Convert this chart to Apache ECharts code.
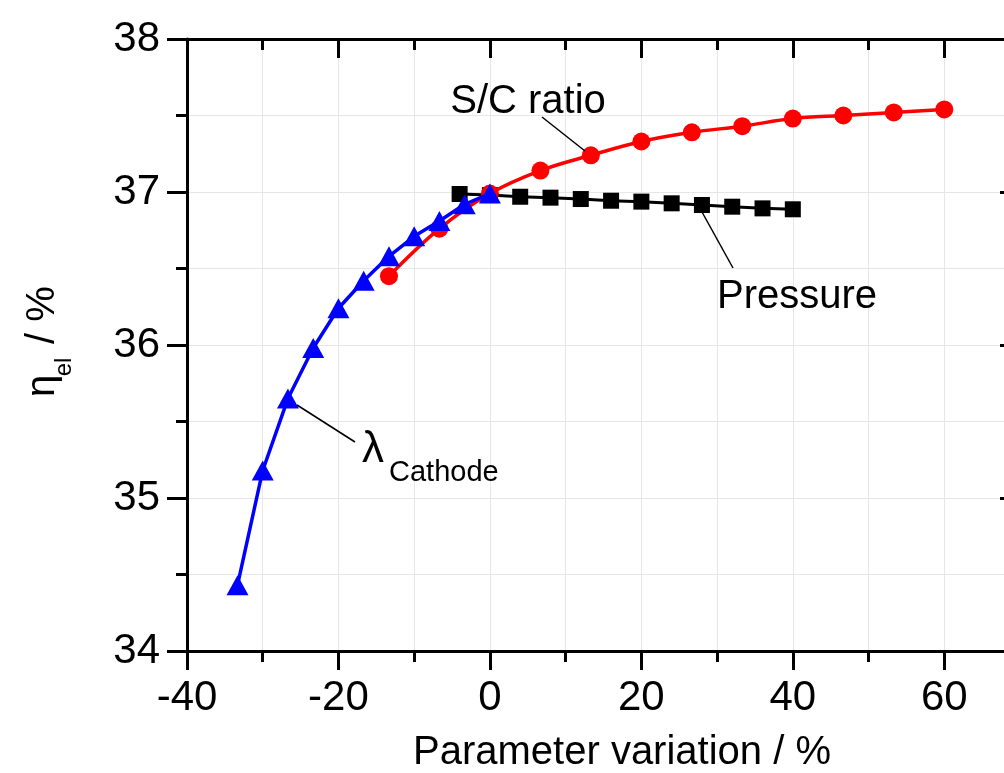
<!DOCTYPE html>
<html>
<head>
<meta charset="utf-8">
<script src="https://cdn.jsdelivr.net/npm/echarts@6/dist/echarts.min.js"></script>
<style>html,body{margin:0;padding:0;background:#fff}#c{width:1004px;height:773px}</style>
</head>
<body>
<div id="c"></div>
<script>
// ---- data ----
const xLambda = [-33.33, -30, -26.67, -23.33, -20, -16.67, -13.33, -10, -6.67, -3.33, 0];
const yLambda = [34.43, 35.18, 35.65, 35.98, 36.24, 36.42, 36.58, 36.71, 36.81, 36.92, 36.99];
const xSC = [-13.33, -6.67, 0, 6.67, 13.33, 20, 26.67, 33.33, 40, 46.67, 53.33, 60];
const ySC = [36.45, 36.76, 36.99, 37.14, 37.24, 37.33, 37.39, 37.43, 37.48, 37.50, 37.52, 37.54];
const xPressure = [-4, 0, 4, 8, 12, 16, 20, 24, 28, 32, 36, 40];
const yPressure = [36.987, 36.98, 36.969, 36.963, 36.954, 36.943, 36.937, 36.926, 36.915, 36.904, 36.893, 36.887];
const xTickLabels = [-40, -20, 0, 20, 40, 60];
const yTickLabels = [34, 35, 36, 37, 38];
const xTitle = 'Parameter variation / %';

const FONT = "'Liberation Sans', Arial, sans-serif";
const pair = (xs, ys) => xs.map((x, i) => [x, ys[i]]);
const XMIN = -40, XMAX = 70, YMIN = 34, YMAX = 38;
const gridRect = { left: 187, top: 39, width: 833, height: 612, containLabel: false, outerBoundsMode: 'none' };
const gridColor = '#e6e6e6';

const chart = echarts.init(document.getElementById('c'), null, { renderer: 'canvas' });
const option = {
  animation: false,
  backgroundColor: '#fff',
  grid: [Object.assign({}, gridRect), Object.assign({}, gridRect)],
  xAxis: [
    { // bottom major with labels
      gridIndex: 0, type: 'value', position: 'bottom', min: XMIN, max: XMAX, interval: 20,
      axisLine: { show: true, onZero: false, lineStyle: { color: '#000', width: 3 } },
      axisTick: { show: true, inside: false, length: 19, lineStyle: { color: '#000', width: 3 } },
      axisLabel: { show: true, margin: 26, fontSize: 42, fontFamily: FONT, color: '#000',
        formatter: v => xTickLabels.indexOf(v) >= 0 ? String(v) : '' },
      splitLine: { show: false }
    },
    { // top major
      gridIndex: 0, type: 'value', position: 'top', min: XMIN, max: XMAX, interval: 20,
      axisLine: { show: true, onZero: false, lineStyle: { color: '#000', width: 3 } },
      axisTick: { show: true, inside: true, length: 19, lineStyle: { color: '#000', width: 3 } },
      axisLabel: { show: false }, splitLine: { show: false }
    },
    { // bottom minor + vertical grid
      gridIndex: 1, type: 'value', position: 'bottom', min: XMIN, max: XMAX, interval: 10,
      axisLine: { show: false, onZero: false },
      axisTick: { show: true, inside: false, length: 11, lineStyle: { color: '#000', width: 3 } },
      axisLabel: { show: false },
      splitLine: { show: true, lineStyle: { color: gridColor, width: 1 } }
    },
    { // top minor
      gridIndex: 1, type: 'value', position: 'top', min: XMIN, max: XMAX, interval: 10,
      axisLine: { show: false, onZero: false },
      axisTick: { show: true, inside: true, length: 11, lineStyle: { color: '#000', width: 3 } },
      axisLabel: { show: false }, splitLine: { show: false }
    }
  ],
  yAxis: [
    {
      gridIndex: 0, type: 'value', position: 'left', min: YMIN, max: YMAX, interval: 1,
      axisLine: { show: true, onZero: false, lineStyle: { color: '#000', width: 3 } },
      axisTick: { show: true, inside: false, length: 20, lineStyle: { color: '#000', width: 3 } },
      minorTick: { show: true, splitNumber: 2, length: 11, lineStyle: { color: '#000', width: 3 } },
      axisLabel: { show: true, margin: 27, fontSize: 42, fontFamily: FONT, color: '#000',
        formatter: v => yTickLabels.indexOf(v) >= 0 ? String(v) : '' },
      splitLine: { show: true, lineStyle: { color: gridColor, width: 1 } },
      minorSplitLine: { show: true, lineStyle: { color: gridColor, width: 1 } }
    },
    {
      gridIndex: 0, type: 'value', position: 'right', min: YMIN, max: YMAX, interval: 1,
      axisLine: { show: true, onZero: false, lineStyle: { color: '#000', width: 3 } },
      axisTick: { show: true, inside: true, length: 20, lineStyle: { color: '#000', width: 3 } },
      minorTick: { show: true, splitNumber: 2, length: 11, lineStyle: { color: '#000', width: 3 } },
      axisLabel: { show: false }, splitLine: { show: false }
    },
    {
      gridIndex: 1, type: 'value', min: YMIN, max: YMAX, show: false
    }
  ],
  series: [
    {
      name: 'Pressure', type: 'line', xAxisIndex: 0, yAxisIndex: 0,
      data: pair(xPressure, yPressure),
      symbol: 'rect', symbolSize: 16, showAllSymbol: true,
      lineStyle: { color: '#000', width: 3 }, itemStyle: { color: '#000' }, z: 3
    },
    {
      name: 'S/C ratio', type: 'line', xAxisIndex: 0, yAxisIndex: 0,
      data: pair(xSC, ySC), smooth: 0.35,
      symbol: 'circle', symbolSize: 18, showAllSymbol: true,
      lineStyle: { color: '#ff0000', width: 3.5 }, itemStyle: { color: '#ff0000' }, z: 4
    },
    {
      name: 'lambda', type: 'line', xAxisIndex: 0, yAxisIndex: 0,
      data: pair(xLambda, yLambda),
      symbol: 'triangle', symbolSize: [22, 20], showAllSymbol: true,
      lineStyle: { color: '#0000ff', width: 3.5 }, itemStyle: { color: '#0000ff' }, z: 5
    }
  ],
  graphic: [
    // leader lines
    { type: 'line', z: 50, shape: { x1: 542, y1: 117, x2: 585, y2: 151 }, style: { stroke: '#000', lineWidth: 1.5 } },
    { type: 'line', z: 50, shape: { x1: 702, y1: 212, x2: 733, y2: 268 }, style: { stroke: '#000', lineWidth: 1.5 } },
    { type: 'line', z: 50, shape: { x1: 297, y1: 405, x2: 355, y2: 442 }, style: { stroke: '#000', lineWidth: 1.5 } },
    // annotation texts
    { type: 'text', z: 50, x: 528, y: 102, style: { text: 'S/C ratio', font: '40px ' + FONT, fill: '#000', align: 'center', verticalAlign: 'middle' } },
    { type: 'text', z: 50, x: 797, y: 297, style: { text: 'Pressure', font: '40px ' + FONT, fill: '#000', align: 'center', verticalAlign: 'middle' } },
    { type: 'text', z: 50, x: 362, y: 450, style: { text: 'λ', font: '44px ' + FONT, fill: '#000', align: 'left', verticalAlign: 'middle' } },
    { type: 'text', z: 50, x: 389, y: 473, style: { text: 'Cathode', font: '29px ' + FONT, fill: '#000', align: 'left', verticalAlign: 'middle' } },
    // x axis title
    { type: 'text', z: 50, x: 622, y: 753, style: { text: xTitle, font: '40px ' + FONT, fill: '#000', align: 'center', verticalAlign: 'middle' } },
    // y axis title (rotated pieces)
    { type: 'text', z: 50, x: 43, y: 386, rotation: Math.PI / 2, style: { text: 'η', font: '40px ' + FONT, fill: '#000', align: 'center', verticalAlign: 'middle' } },
    { type: 'text', z: 50, x: 64, y: 367, rotation: Math.PI / 2, style: { text: 'el', font: '24px ' + FONT, fill: '#000', align: 'center', verticalAlign: 'middle' } },
    { type: 'text', z: 50, x: 43, y: 315, rotation: Math.PI / 2, style: { text: '/ %', font: '40px ' + FONT, fill: '#000', align: 'center', verticalAlign: 'middle' } }
  ]
};
chart.setOption(option);
</script>
</body>
</html>
